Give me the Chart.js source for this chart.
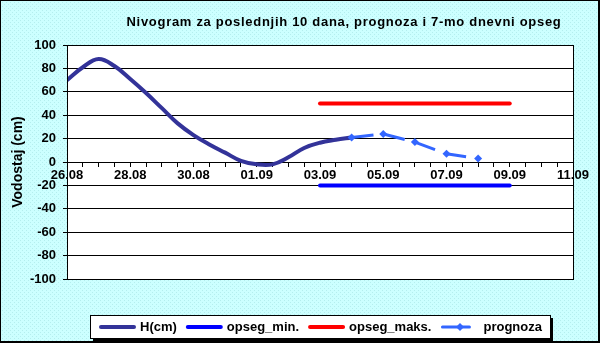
<!DOCTYPE html>
<html>
<head>
<meta charset="utf-8">
<script src="https://cdn.jsdelivr.net/npm/chart.js@4/dist/chart.umd.min.js"></script>
<style>
  body { margin: 0; background: #ffffff; }
  #chart { display: block; }
</style>
</head>
<body>
<canvas id="chart" width="600" height="343"></canvas>
<script>
// Tick labels on the x axis (every second day, day 0 = 26.08)
const tickLabels = ['26.08', '28.08', '30.08', '01.09', '03.09', '05.09', '07.09', '09.09', '11.09'];

// Measured level H(cm), sampled every half day
const hDays = [0, 0.5, 1, 1.5, 2, 2.5, 3, 3.5, 4, 4.5, 5, 5.5, 6, 6.5, 7, 7.5, 8, 8.5, 9];
const hValues = [70, 81, 88, 82, 71, 59, 46, 33, 23, 15, 8, 1, -2, -2, 4, 12, 16.5, 19, 21];

// Forecast
const forecastDays = [9, 10, 11, 12, 13];
const forecastValues = [21, 24, 17, 7, 3];

// 7-day range
const rangeDays = [8, 14];
const rangeMin = [-20, -20];
const rangeMax = [50, 50];

const FONT = 'Arial, "Liberation Sans", sans-serif';
Chart.defaults.font.family = FONT;
Chart.defaults.color = '#000000';

function toPoints(xs, ys) {
  return xs.map((x, i) => ({ x: x, y: ys[i] }));
}

// Dotted cyan background
function makePattern(ctx) {
  const c = document.createElement('canvas');
  c.width = 4; c.height = 4;
  const p = c.getContext('2d');
  p.fillStyle = '#ccffff';
  p.fillRect(0, 0, 4, 4);
  p.fillStyle = '#b4eeee';
  p.fillRect(0, 0, 1, 1);
  p.fillRect(2, 2, 1, 1);
  return ctx.createPattern(c, 'repeat');
}

const frame = {
  id: 'frame',
  beforeDraw(chart) {
    const { ctx, chartArea: a } = chart;
    ctx.save();
    ctx.fillStyle = makePattern(ctx);
    ctx.fillRect(0, 0, chart.width, chart.height);
    ctx.fillStyle = '#ffffff';
    ctx.fillRect(a.left, a.top, a.right - a.left, a.bottom - a.top);
    ctx.restore();
  },
  afterDraw(chart) {
    const { ctx, chartArea: a } = chart;
    ctx.save();
    // plot border
    ctx.strokeStyle = '#000000';
    ctx.lineWidth = 1;
    ctx.strokeRect(Math.round(a.left) + 0.5, Math.round(a.top) + 0.5,
      Math.round(a.right - a.left), Math.round(a.bottom - a.top));

    // title
    ctx.fillStyle = '#000000';
    ctx.font = 'bold 13px ' + FONT;
    ctx.letterSpacing = '0.7px';
    ctx.textAlign = 'center';
    ctx.textBaseline = 'middle';
    ctx.fillText('Nivogram za poslednjih 10 dana, prognoza i 7-mo dnevni opseg', 344, 22);
    ctx.letterSpacing = '0px';

    // legend box with shadow
    const bx = 90, by = 315, bw = 460, bh = 23;
    ctx.fillStyle = '#000000';
    ctx.fillRect(bx + 3, by + 3, bw, bh);
    ctx.fillStyle = '#ffffff';
    ctx.fillRect(bx, by, bw, bh);
    ctx.strokeStyle = '#000000';
    ctx.strokeRect(bx + 0.5, by + 0.5, bw, bh);

    ctx.font = 'bold 13px ' + FONT;
    ctx.textAlign = 'left';
    let x = 101;
    const ly = 327;
    chart.data.datasets.forEach((ds, i) => {
      const len = i === 3 ? 27 : 33;
      ctx.strokeStyle = ds.borderColor;
      ctx.lineWidth = ds.borderWidth;
      ctx.lineCap = 'round';
      ctx.beginPath();
      ctx.moveTo(x, ly);
      ctx.lineTo(x + len, ly);
      ctx.stroke();
      if (ds.pointRadius > 0) {
        const mx = x + len * 0.65;
        ctx.fillStyle = ds.borderColor;
        ctx.beginPath();
        ctx.moveTo(mx, ly - 4);
        ctx.lineTo(mx + 4, ly);
        ctx.lineTo(mx, ly + 4);
        ctx.lineTo(mx - 4, ly);
        ctx.closePath();
        ctx.fill();
      }
      const tx = x + len + (i === 3 ? 14 : 6);
      ctx.fillStyle = '#000000';
      ctx.fillText(ds.label, tx, ly);
      x = tx + ctx.measureText(ds.label).width + 11;
    });

    // outer border
    ctx.fillStyle = '#000000';
    ctx.fillRect(0, 0, chart.width, 1);
    ctx.fillRect(0, 0, 1, chart.height);
    ctx.fillRect(chart.width - 2, 0, 2, chart.height);
    ctx.fillRect(0, chart.height - 2, chart.width, 2);
    ctx.restore();
  }
};

new Chart(document.getElementById('chart').getContext('2d'), {
  type: 'line',
  data: {
    datasets: [
      {
        label: 'H(cm)',
        data: toPoints(hDays, hValues),
        borderColor: '#333399',
        borderWidth: 4,
        tension: 0.4,
        pointRadius: 0,
        order: 1
      },
      {
        label: 'opseg_min.',
        data: toPoints(rangeDays, rangeMin),
        borderColor: '#0000ff',
        borderWidth: 4,
        borderCapStyle: 'round',
        pointRadius: 0,
        order: 2
      },
      {
        label: 'opseg_maks.',
        data: toPoints(rangeDays, rangeMax),
        borderColor: '#ff0000',
        borderWidth: 4,
        borderCapStyle: 'round',
        pointRadius: 0,
        order: 3
      },
      {
        label: 'prognoza',
        data: toPoints(forecastDays, forecastValues),
        borderColor: '#3366ff',
        backgroundColor: '#3366ff',
        borderWidth: 3,
        borderDash: [22, 10],
        tension: 0,
        pointStyle: 'rectRot',
        pointRadius: 4,
        pointBorderWidth: 0,
        order: 0
      }
    ]
  },
  options: {
    responsive: false,
    animation: false,
    layout: { padding: { top: 45, bottom: 64, left: 4, right: 27 } },
    plugins: {
      legend: { display: false },
      tooltip: { enabled: false }
    },
    scales: {
      x: {
        type: 'linear',
        position: { y: 0 },
        min: 0,
        max: 16,
        grid: { drawOnChartArea: false, color: '#000000', tickLength: 4 },
        border: { display: true, color: '#000000' },
        ticks: {
          stepSize: 0.5,
          autoSkip: false,
          maxRotation: 0,
          padding: 2,
          color: '#000000',
          font: { size: 13, weight: 'bold' },
          callback: (v) => (Number.isInteger(v) && v % 2 === 0) ? tickLabels[v / 2] : ''
        }
      },
      y: {
        min: -100,
        max: 100,
        grid: { color: '#000000', tickLength: 4 },
        border: { display: true, color: '#000000' },
        ticks: {
          stepSize: 20,
          padding: 7,
          color: '#000000',
          font: { size: 13, weight: 'bold' }
        },
        title: {
          display: true,
          text: 'Vodostaj (cm)',
          color: '#000000',
          font: { size: 14, weight: 'bold' },
          padding: { top: 6, bottom: 0 }
        },
        afterFit: (scale) => { scale.width = 63; }
      }
    }
  },
  plugins: [frame]
});
</script>
</body>
</html>
